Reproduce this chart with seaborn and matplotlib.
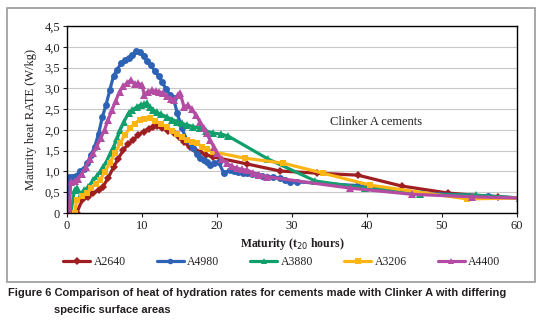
import matplotlib
matplotlib.use("Agg")
import matplotlib.pyplot as plt
import seaborn as sns
import pandas as pd
from matplotlib.patches import Rectangle

# ---------------- data ----------------
a4980_t = [0, 0.2, 0.7, 1.2, 1.7, 2.2, 2.7, 3.2, 3.7, 4.2, 4.7, 5.2, 5.7, 6.2, 6.7, 7.2, 7.7, 8.2,
           8.7, 9.2, 9.7, 10.2, 10.7, 11.2, 11.7, 12.2, 12.7, 13.2, 13.7, 14.2, 14.7, 15.3, 16.0,
           16.8, 17.3, 17.7, 18.2, 18.6, 19.1, 19.6, 20.2, 20.9, 21.7, 22.3, 22.8, 23.4, 24.0,
           24.6, 25.3, 26.0, 26.6, 27.5, 28.4, 29.0, 29.7, 30.6, 38.7, 47.2, 56.1, 60.4]
a4980_v = [0, 0.87, 0.87, 0.9, 1.0, 1.05, 1.2, 1.4, 1.6, 1.9, 2.3, 2.6, 2.95, 3.3, 3.45, 3.6, 3.68, 3.72,
           3.8, 3.9, 3.88, 3.78, 3.65, 3.55, 3.42, 3.3, 3.15, 2.98, 2.85, 2.76, 2.4, 2.04, 1.75,
           1.56, 1.42, 1.32, 1.28, 1.23, 1.15, 1.2, 1.23, 0.96, 1.03, 1.0, 0.99, 0.97, 0.96,
           0.94, 0.91, 0.89, 0.87, 0.86, 0.84, 0.8, 0.75, 0.75, 0.66, 0.48, 0.41, 0.36]

a4400_t = [0.3, 0.5, 1.0, 1.5, 2.0, 2.5, 3.0, 3.5, 4.0, 4.5, 5.0, 5.5, 6.0, 6.5, 7.0, 7.5, 8.0, 8.5,
           9.0, 9.5, 10.0, 10.3, 10.8, 11.3, 11.8, 12.3, 12.8, 13.3, 13.8, 14.3, 14.8, 15.1, 15.6,
           16.1, 16.6, 17.2, 17.7, 18.2, 18.6, 19.1, 19.6, 20.0, 20.6, 21.3, 22.0, 22.6, 23.3,
           24.0, 24.8, 25.6, 26.7, 37.7, 46.0, 54.0, 60.4]
a4400_v = [0, 0.75, 0.76, 0.82, 0.95, 1.1, 1.3, 1.44, 1.62, 1.8, 2.0, 2.25, 2.48, 2.7, 2.92, 3.05, 3.12, 3.2,
           3.1, 3.12, 3.08, 2.85, 2.92, 2.95, 2.93, 2.92, 2.88, 2.82, 2.75, 2.72, 2.85, 2.88, 2.55,
           2.6, 2.5, 2.36, 2.2, 2.05, 1.92, 1.75, 1.58, 1.44, 1.3, 1.2, 1.12, 1.08, 1.05,
           1.03, 0.97, 0.92, 0.87, 0.6, 0.45, 0.39, 0.36]

a3880_t = [0.5, 1.0, 1.3, 1.8, 2.3, 2.8, 3.5, 4.0, 4.5, 4.8, 5.3, 5.8, 6.2, 6.7, 7.1, 7.6, 8.2, 8.7,
           9.3, 9.8, 10.3, 10.6, 11.0, 11.5, 12.0, 12.5, 13.3, 14.0, 14.7, 15.3, 16.0, 16.8, 17.7,
           18.5, 19.5, 20.5, 21.5, 26.8, 33.1, 39.7, 47.1, 54.5, 60.4]
a3880_v = [0, 0.55, 0.6, 0.45, 0.55, 0.62, 0.79, 0.9, 1.02, 1.1, 1.25, 1.45, 1.59, 1.8, 2.0, 2.2, 2.4, 2.48,
           2.55, 2.6, 2.62, 2.64, 2.55, 2.48, 2.42, 2.38, 2.31, 2.25, 2.2, 2.16, 2.12, 2.08, 2.04,
           1.98, 1.92, 1.9, 1.85, 1.3, 0.77, 0.6, 0.45, 0.43, 0.36]

a3206_t = [1.0, 1.3, 2.0, 2.6, 3.2, 3.8, 4.4, 5.0, 5.7, 6.4, 7.1, 7.7, 8.4, 9.0, 9.7, 10.3, 11.0, 11.7,
           12.5, 13.3, 14.0, 14.7, 15.3, 16.0, 16.7, 17.3, 18.0, 18.7, 19.5, 23.7, 28.8, 34.1,
           40.4, 53.3, 60.4]
a3206_v = [0, 0.31, 0.4, 0.48, 0.6, 0.7, 0.79, 0.98, 1.2, 1.45, 1.68, 1.88, 2.04, 2.15, 2.24, 2.27, 2.28, 2.22,
           2.15, 2.07, 1.98, 1.9, 1.82, 1.75, 1.7, 1.68, 1.6, 1.53, 1.47, 1.32, 1.2, 0.96,
           0.67, 0.34, 0.36]

a2640_t = [1.3, 2.0, 2.8, 3.5, 4.2, 4.8, 5.5, 6.2, 6.8, 7.5, 8.1, 8.8, 9.5, 10.2, 10.9, 11.5, 12.0, 12.7,
           13.4, 14.2, 14.9, 15.6, 16.4, 17.0, 17.7, 18.5, 19.5, 24.0, 28.4, 33.3, 38.8, 44.6,
           50.8, 57.5, 60.4]
a2640_v = [0, 0.31, 0.38, 0.48, 0.55, 0.63, 0.85, 1.1, 1.3, 1.51, 1.65, 1.75, 1.88, 1.96, 2.02, 2.06, 2.09, 2.05,
           1.98, 1.92, 1.82, 1.7, 1.59, 1.52, 1.47, 1.4, 1.35, 1.18, 1.01, 0.96, 0.91, 0.65,
           0.48, 0.38, 0.36]

series_names = ["A2640", "A4980", "A3880", "A3206", "A4400"]
y_ticks = [0, 0.5, 1.0, 1.5, 2.0, 2.5, 3.0, 3.5, 4.0, 4.5]
y_tick_labels = ["0", "0,5", "1,0", "1,5", "2,0", "2,5", "3,0", "3,5", "4,0", "4,5"]
x_ticks = [0, 10, 20, 30, 40, 50, 60]

# ---------------- styling ----------------
sns.set_theme(style="white")
plt.rcParams["font.family"] = ["Liberation Serif", "DejaVu Serif"]

series = {
    "A2640": (a2640_t, a2640_v, "#9E1E22", "D", 4.5),
    "A4980": (a4980_t, a4980_v, "#2D62B5", "o", 5.0),
    "A3880": (a3880_t, a3880_v, "#11A06C", "^", 6.0),
    "A3206": (a3206_t, a3206_v, "#FDB515", "s", 5.0),
    "A4400": (a4400_t, a4400_v, "#B54CA3", "^", 6.0),
}

fig = plt.figure(figsize=(5.42, 3.32), dpi=100)
ax = fig.add_axes([67 / 542, 1 - 213 / 332, 450 / 542, 187 / 332])

for name in series_names:
    t, v, col, mk, ms = series[name]
    df = pd.DataFrame({"t": t, "v": v})
    sns.lineplot(data=df, x="t", y="v", ax=ax, color=col, marker=mk, markersize=ms,
                 markeredgewidth=0, linewidth=2.3, label=name, sort=False, estimator=None)

ax.set_xlim(0, 60)
ax.set_ylim(0, 4.5)
ax.set_xticks(x_ticks)
ax.set_yticks(y_ticks)
ax.set_yticklabels(y_tick_labels)
ax.tick_params(axis="both", labelsize=9, colors="#231F20", length=3, width=0.8, direction="out",
               bottom=True, left=True, pad=2)
ax.yaxis.grid(True, color="#C8C8C8", linewidth=0.8)
ax.xaxis.grid(False)
for s in ax.spines.values():
    s.set_color("black")
    s.set_linewidth(1.0)

ax.set_xlabel("Maturity (t$_{20}$ hours)", fontsize=8.5, fontweight="bold", color="#231F20", labelpad=3)
ax.set_ylabel("Maturity heat RATE (W/kg)", fontsize=9, color="#231F20", labelpad=5)

ax.text(35.0, 2.2, "Clinker A cements", fontsize=9, color="#231F20", va="center", ha="left")

leg = ax.legend(loc="center", bbox_to_anchor=(0.52, 0.211), bbox_transform=fig.transFigure,
                ncol=5, frameon=False, fontsize=8.5, handlelength=2.3, columnspacing=2.6,
                handletextpad=0.3, markerscale=0.8)
for txt in leg.get_texts():
    txt.set_color("#231F20")

# outer frame
fig.patches.append(Rectangle((7 / 542, 1 - 282 / 332), 528 / 542, 274 / 332,
                             transform=fig.transFigure, fill=False, edgecolor="#9A9A9A",
                             linewidth=1.2))

cap_font = ["Liberation Sans", "DejaVu Sans"]
fig.text(8 / 542, 1 - 293 / 332,
         "Figure 6 Comparison of heat of hydration rates for cements made with Clinker A with differing",
         fontsize=8.0, fontweight="bold", family=cap_font, color="#231F20", va="center", ha="left")
fig.text(54 / 542, 1 - 310 / 332, "specific surface areas",
         fontsize=8.0, fontweight="bold", family=cap_font, color="#231F20", va="center", ha="left")

fig.savefig("out.png", dpi=100)
